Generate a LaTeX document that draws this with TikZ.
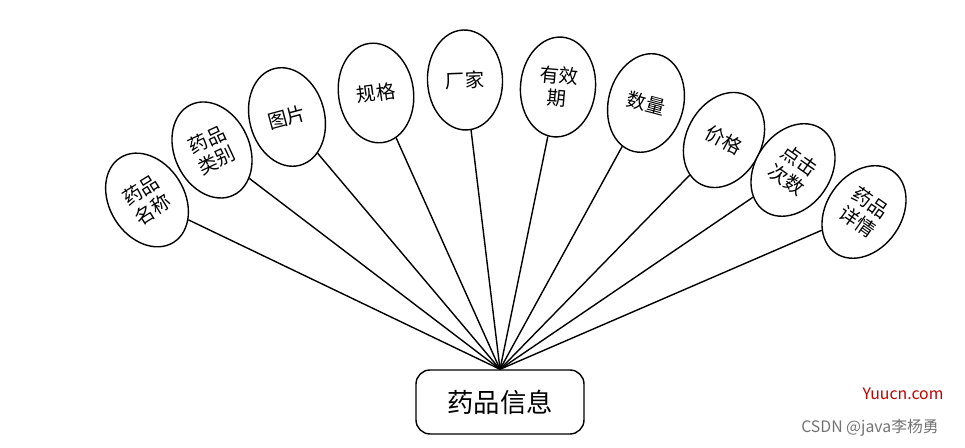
\documentclass[tikz,border=0pt]{standalone}
\usepackage{fontspec}
\setmainfont{Noto Sans CJK SC}
\usetikzlibrary{shapes.geometric}
\tikzstyle{attr}=[draw, thick, ellipse, fill=white, inner sep=0pt,
  minimum width=1.5cm, minimum height=2.0cm, align=center,
  font=\fontsize{11}{13}\selectfont]
\tikzstyle{entity}=[draw, thick, rounded corners=8pt, minimum width=3.36cm,
  minimum height=1.28cm, font=\fontsize{15}{18}\selectfont]
\tikzstyle{line}=[draw, thick]
\begin{document}
\begin{tikzpicture}
  \useasboundingbox (0,0) rectangle (19.3,8.96);

  % entity
  \node (DRUG) [entity] at (10.0,0.92) {药品信息};

  % attributes
  \node (NAME)  [attr, rotate=32]  at (2.94,4.96)  {药品\\名称};
  \node (TYPE)  [attr, rotate=25]  at (4.24,5.96)  {药品\\类别};
  \node (PIC)   [attr, rotate=15]  at (5.74,6.62)  {图片};
  \node (SPEC)  [attr, rotate=8]   at (7.52,7.10)  {规格};
  \node (MAKER) [attr, rotate=2]   at (9.30,7.36)  {厂家};
  \node (VALID) [attr, rotate=-5]  at (11.16,7.22) {有效\\期};
  \node (NUM)   [attr, rotate=-15] at (12.92,6.90) {数量};
  \node (PRICE) [attr, rotate=-28] at (14.48,6.16) {价格};
  \node (CLICK) [attr, rotate=-35] at (15.86,5.56) {点击\\次数};
  \node (INFO)  [attr, rotate=-35] at (17.28,4.72) {药品\\详情};

  % connectors
  \foreach \a in {NAME,TYPE,PIC,SPEC,MAKER,VALID,NUM,PRICE,CLICK,INFO}
    \path [line] (DRUG.north) -- (\a);

  % watermark
  \node (MARK1) [text=red!75!black, font=\small] at (18.06,1.08) {Yuucn.com};
  \node (MARK2) [text=black!55, font=\small] at (17.4,0.4) {CSDN @java李杨勇};
\end{tikzpicture}
\end{document}
